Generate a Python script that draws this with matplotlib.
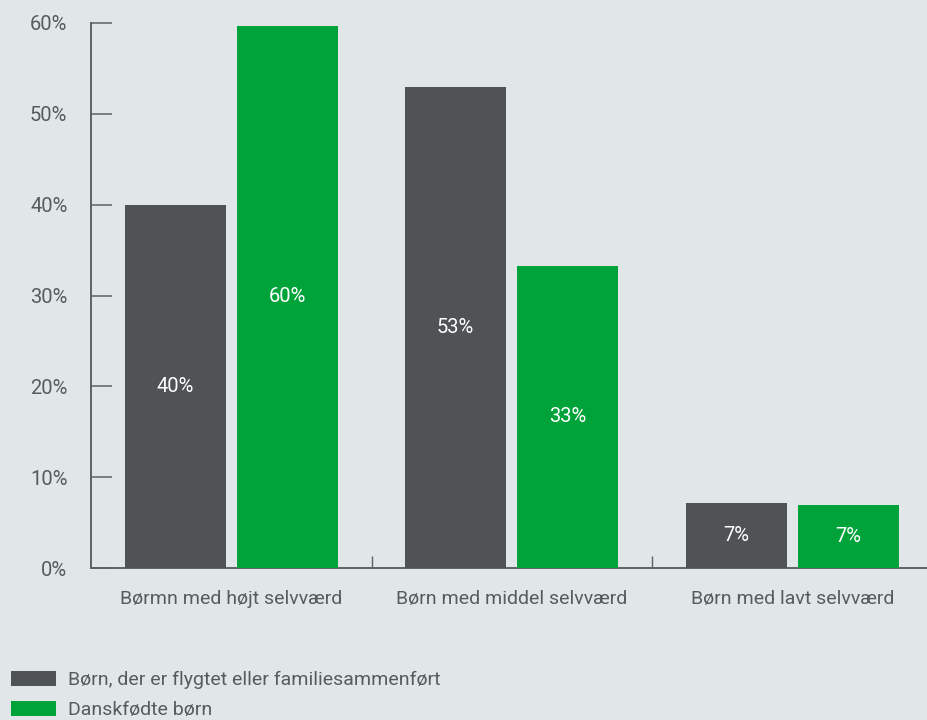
import matplotlib
matplotlib.use("Agg")
import matplotlib.pyplot as plt
from matplotlib.patches import Patch
import numpy as np

categories = ["Børmn med højt selvværd", "Børn med middel selvværd", "Børn med lavt selvværd"]
series_names = ["Børn, der er flygtet eller familiesammenført", "Danskfødte børn"]
refugee = [40.0, 52.9, 7.2]
danish = [59.7, 33.3, 6.9]
y_ticks = [0, 10, 20, 30, 40, 50, 60]

BG = "#e1e6e9"
GRAY = "#4f5356"
GREEN = "#00a33a"
TEXT = "#575b5e"
AXIS = "#5e6265"

plt.rcParams["font.family"] = ["Roboto", "DejaVu Sans"]

fig = plt.figure(figsize=(9.27, 7.2), dpi=100, facecolor=BG)
ax = fig.add_axes([91 / 927, 152 / 720, 841.5 / 927, 545 / 720], facecolor=BG)

x = np.arange(len(categories))
w = 0.36
off = 0.2
b1 = ax.bar(x - off, refugee, w, color=GRAY, zorder=3)
b2 = ax.bar(x + off, danish, w, color=GREEN, zorder=3)

for bars, vals in ((b1, refugee), (b2, danish)):
    for r, v in zip(bars, vals):
        ax.text(r.get_x() + r.get_width() / 2, v / 2, f"{round(v)}%",
                ha="center", va="center", color="white", fontsize=14.5, zorder=4)

ax.set_xlim(-0.5, len(categories) - 0.5)
ax.set_ylim(0, 60)

for s in ("top", "right"):
    ax.spines[s].set_visible(False)
for s in ("left", "bottom"):
    ax.spines[s].set_color(AXIS)
    ax.spines[s].set_linewidth(1.4)

ax.set_yticks(y_ticks)
ax.set_yticklabels([f"{t}%" for t in y_ticks])
ax.tick_params(axis="y", direction="in", length=15, width=1.4, color="#7a7e81",
               pad=17, labelsize=14.5, labelcolor=TEXT)

ax.set_xticks(x)
ax.set_xticklabels(categories)
ax.tick_params(axis="x", which="major", length=0, pad=16, labelsize=14, labelcolor=TEXT)
ax.set_xticks([0.5, 1.5], minor=True)
ax.tick_params(axis="x", which="minor", direction="in", length=9, width=1.0, color=AXIS)

handles = [Patch(facecolor=GRAY, edgecolor="none"), Patch(facecolor=GREEN, edgecolor="none")]
fig.legend(handles, series_names, loc="upper left", bbox_to_anchor=(11 / 927, 1 - 671 / 720),
           frameon=False, fontsize=14, labelcolor=TEXT, handlelength=2.3, handleheight=0.8,
           handletextpad=0.65, labelspacing=0.6, borderpad=0, borderaxespad=0)

fig.savefig("out.png", dpi=100, facecolor=BG)
